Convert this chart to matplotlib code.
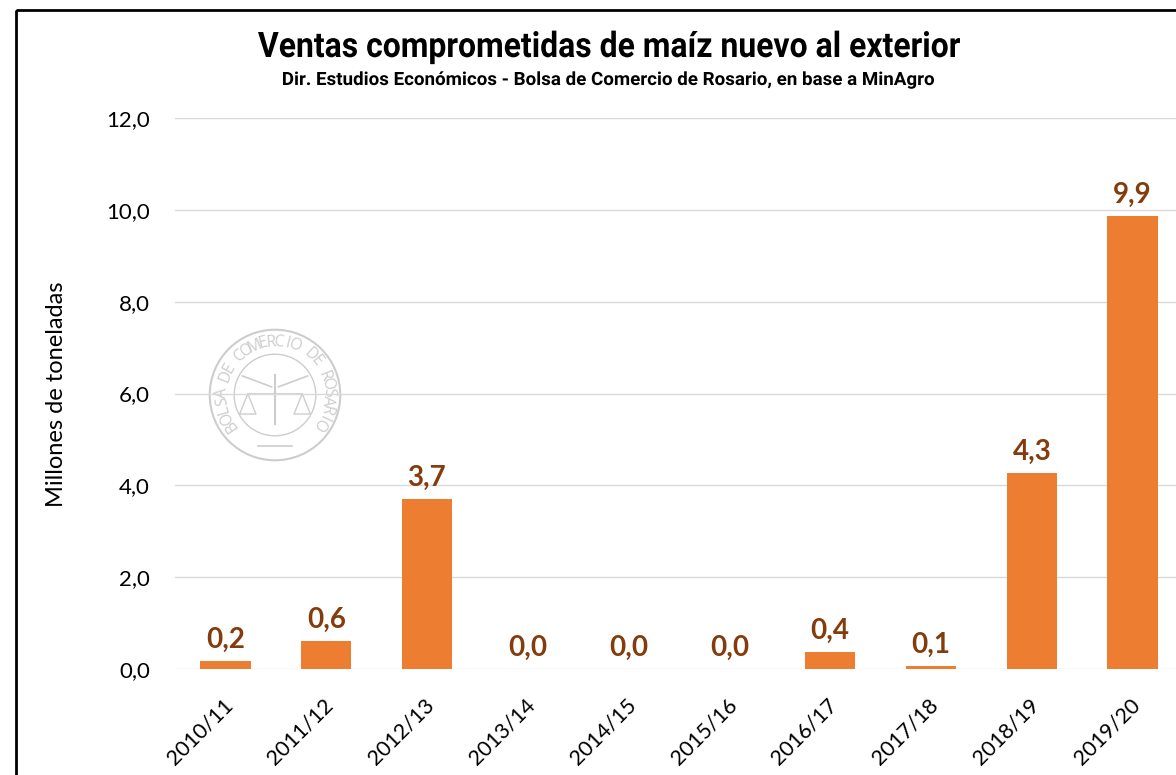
import numpy as np
import matplotlib
matplotlib.use("Agg")
import matplotlib.pyplot as plt
from matplotlib.font_manager import FontProperties
from matplotlib.patches import Circle, Rectangle, PathPatch
from matplotlib.textpath import TextPath
from matplotlib.transforms import ScaledTranslation, Affine2D

# data (millones de toneladas)
campanas = ["2010/11", "2011/12", "2012/13", "2013/14", "2014/15",
            "2015/16", "2016/17", "2017/18", "2018/19", "2019/20"]
ventas = [0.17, 0.61, 3.70, 0.0, 0.0, 0.0, 0.37, 0.07, 4.27, 9.87]
yticks = [0, 2, 4, 6, 8, 10, 12]

titulo = "Ventas comprometidas de maíz nuevo al exterior"
subtitulo = "Dir. Estudios Económicos - Bolsa de Comercio de Rosario, en base a MinAgro"
ylabel = "Millones de toneladas"
sello = "BOLSA DE COMERCIO DE ROSARIO"

naranja = "#ED7D31"
marron = "#843C0C"

plt.rcParams["font.family"] = ["Lato", "DejaVu Sans"]

W, H = 1176, 775
fig = plt.figure(figsize=(W / 100, H / 100), dpi=100)

# watermark (behind chart)
cx, cy, r = 275, 395, 68
wax = fig.add_axes([(cx - r) / W, 1 - (cy + r) / H, 2 * r / W, 2 * r / H])
wax.set_xlim(-1, 1)
wax.set_ylim(-1, 1)
wax.axis("off")
gris = "#CDCDCD"
wax.add_patch(Circle((0, 0), 0.96, fill=False, ec=gris, lw=1.5))
wax.add_patch(Circle((0, 0), 0.60, fill=False, ec=gris, lw=1.0))
angs = np.linspace(214, -34, len(sello))
for ch, a in zip(sello, angs):
    t = np.deg2rad(a)
    wax.text(0.78 * np.cos(t), 0.78 * np.sin(t), ch, rotation=a - 90,
             ha="center", va="center", fontsize=11.5, color=gris,
             family=["Open Sans", "DejaVu Sans"])
# caduceo + balanza (simplificado)
wax.plot([0, 0], [-0.42, 0.30], color=gris, lw=1.5)
wax.plot([-0.40, 0.40], [0.02, 0.02], color=gris, lw=1.2)
wax.plot([-0.48, -0.05], [0.28, 0.12], color=gris, lw=1.2)
wax.plot([0.48, 0.05], [0.28, 0.12], color=gris, lw=1.2)
for sx in (-1, 1):
    wax.plot([sx * 0.40, sx * 0.52, sx * 0.28, sx * 0.40], [0.02, -0.28, -0.28, 0.02], color=gris, lw=1.0)
wax.plot([-0.25, 0.25], [-0.75, -0.75], color=gris, lw=1.2)

ax = fig.add_axes([175 / W, (H - 669) / H, 1008 / W, 551 / H])
ax.patch.set_alpha(0)
x = np.arange(len(campanas))
ax.bar(x, ventas, width=0.5, color=naranja, zorder=3)
for xi, v in zip(x, ventas):
    ax.annotate(f"{v:.1f}".replace(".", ","), (xi, v), xytext=(0, 6),
                textcoords="offset points", ha="center", va="bottom",
                fontsize=20, fontweight="bold", color=marron, zorder=4)

ax.set_xlim(-0.5, len(campanas) - 0.5)
ax.set_ylim(0, 12)
ax.set_yticks(yticks)
ax.set_yticklabels([f"{t:.1f}".replace(".", ",") for t in yticks], fontsize=16)
ax.yaxis.grid(True, color="#D9D9D9", lw=1, zorder=0)
ax.tick_params(length=0)
ax.tick_params(axis="y", pad=18)
for s in ax.spines.values():
    s.set_visible(False)

ax.set_xticks(x)
ax.set_xticklabels(campanas, rotation=45, ha="right", rotation_mode="anchor", fontsize=15.5)
off = ScaledTranslation(-3 / 100, -21 / 100, fig.dpi_scale_trans)
for lab in ax.get_xticklabels():
    lab.set_transform(lab.get_transform() + off)

fig.text(57 / W, 1 - 394 / H, ylabel, rotation=90, ha="center", va="center", fontsize=17)

# overlay in pixel coords for condensed titles and frame
over = fig.add_axes([0, 0, 1, 1], zorder=10)
over.set_xlim(0, W)
over.set_ylim(H, 0)
over.axis("off")
over.patch.set_alpha(0)

prop_t = FontProperties(family=["Roboto", "DejaVu Sans"], weight="bold")
cap_ref = TextPath((0, 0), "H", size=100, prop=prop_t).get_extents().height


def texto_condensado(s, x0, x1, base, cap):
    tp = TextPath((0, 0), s, size=100, prop=prop_t)
    ext = tp.get_extents()
    sx = (x1 - x0) / ext.width
    sy = cap / cap_ref
    tr = Affine2D().translate(-ext.x0, 0).scale(sx, -sy).translate(x0, base) + over.transData
    over.add_patch(PathPatch(tp, transform=tr, fc="black", ec="none", lw=0))


texto_condensado(titulo, 258, 960, 57, 25)
texto_condensado(subtitulo, 283, 934, 85, 13)

# marco
over.add_patch(Rectangle((16, 10), W + 50, H + 50, fill=False, ec="black", lw=2))

fig.savefig("out.png", dpi=100)
